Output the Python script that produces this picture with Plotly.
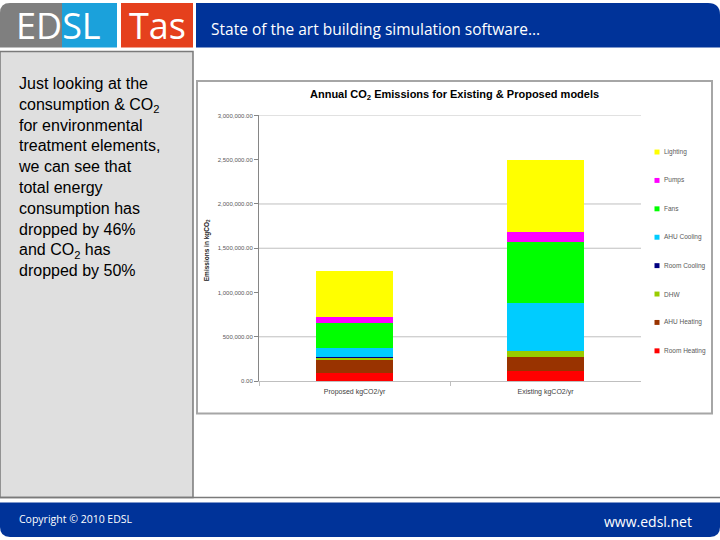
import plotly.graph_objects as go

# ---------------- data ----------------
categories = ["Proposed kgCO2/yr", "Existing kgCO2/yr"]
room_heating = [92000, 115000]
ahu_heating = [148000, 156000]
dhw = [26000, 67000]
room_cooling = [11000, 3000]
ahu_cooling = [93000, 541000]
fans = [285000, 693000]
pumps = [74000, 107000]
lighting = [515000, 819000]

series_names = ["Room Heating", "AHU Heating", "DHW", "Room Cooling",
                "AHU Cooling", "Fans", "Pumps", "Lighting"]
series_values = [room_heating, ahu_heating, dhw, room_cooling,
                 ahu_cooling, fans, pumps, lighting]
series_colors = ["#ff0000", "#993300", "#99cc00", "#000080",
                 "#00ccff", "#00ff00", "#ff00ff", "#ffff00"]

y_ticks = [0, 500000, 1000000, 1500000, 2000000, 2500000, 3000000]
grid_values = [500000, 1500000, 2000000, 3000000]

W, H = 720, 540
def px(x):
    return x / W
def py(y):
    return 1 - y / H

fig = go.Figure()
for name, vals, col in zip(series_names, series_values, series_colors):
    fig.add_trace(go.Bar(x=categories, y=vals, name=name,
                         marker=dict(color=col, line=dict(width=0)),
                         showlegend=False))

shapes = []
annotations = []

# header logo blocks
shapes.append(dict(type="path", xref="paper", yref="paper",
                   path=f"M {px(0)},{py(45)} L {px(0)},{py(10)} Q {px(0)},{py(0)} {px(10)},{py(0)} L {px(62)},{py(0)} L {px(62)},{py(45)} Z",
                   fillcolor="#7f7f7f", line=dict(width=0), layer="below"))
shapes.append(dict(type="rect", xref="paper", yref="paper",
                   x0=px(62), x1=px(117), y0=py(45), y1=py(0),
                   fillcolor="#1ba1db", line=dict(width=0), layer="below"))
shapes.append(dict(type="rect", xref="paper", yref="paper",
                   x0=px(121), x1=px(193), y0=py(45), y1=py(0),
                   fillcolor="#e5401d", line=dict(width=0), layer="below"))
# header blue bar
shapes.append(dict(type="path", xref="paper", yref="paper",
                   path=f"M {px(196)},{py(45)} L {px(196)},{py(0)} L {px(708)},{py(0)} Q {px(720)},{py(0)} {px(720)},{py(12)} L {px(720)},{py(45)} Z",
                   fillcolor="#003399", line=dict(width=0), layer="below"))
# left panel
shapes.append(dict(type="rect", xref="paper", yref="paper",
                   x0=px(0), x1=px(193), y0=py(500), y1=py(49),
                   fillcolor="#dfdfdf", line=dict(color="#7a7a7a", width=1.5), layer="below"))
# bottom separator line
shapes.append(dict(type="line", xref="paper", yref="paper",
                   x0=px(0), x1=px(720), y0=py(500), y1=py(500),
                   line=dict(color="#7a7a7a", width=1.5), layer="below"))
# bottom blue bar
shapes.append(dict(type="path", xref="paper", yref="paper",
                   path=f"M {px(0)},{py(505)} L {px(720)},{py(505)} L {px(720)},{py(530)} Q {px(720)},{py(540)} {px(710)},{py(540)} L {px(10)},{py(540)} Q {px(0)},{py(540)} {px(0)},{py(530)} Z",
                   fillcolor="#003399", line=dict(width=0), layer="below"))
# chart frame
shapes.append(dict(type="rect", xref="paper", yref="paper",
                   x0=px(197), x1=px(712), y0=py(415), y1=py(79),
                   fillcolor="white", line=dict(color="#a6a6a6", width=2), layer="below"))
# gridlines
for g in grid_values:
    shapes.append(dict(type="line", xref="x domain", yref="y",
                       x0=0, x1=1, y0=g, y1=g,
                       line=dict(color="#bfbfbf", width=1), layer="below"))

# manual legend (top = last series)
leg_names = series_names[::-1]
leg_colors = series_colors[::-1]
for i, (n, c) in enumerate(zip(leg_names, leg_colors)):
    yc = 150.7 + i * 28.72
    shapes.append(dict(type="rect", xref="paper", yref="paper",
                       x0=px(654.5), x1=px(659.5), y0=py(yc + 2.5), y1=py(yc - 2.5),
                       fillcolor=c, line=dict(width=0)))
    annotations.append(dict(text=n, x=px(661.5), y=py(yc), xref="paper", yref="paper",
                            xanchor="left", yanchor="middle", showarrow=False,
                            font=dict(family="Liberation Sans, Arial", size=6.5, color="#595959")))

# logo text
annotations.append(dict(text="EDSL", x=px(58), y=py(23), xref="paper", yref="paper",
                        showarrow=False, xanchor="center", yanchor="middle",
                        font=dict(family="Open Sans", size=36, color="white")))
annotations.append(dict(text="Tas", x=px(157), y=py(23), xref="paper", yref="paper",
                        showarrow=False, xanchor="center", yanchor="middle",
                        font=dict(family="Open Sans", size=36, color="white")))
# header text
annotations.append(dict(text="State of the art building simulation software...",
                        x=px(209), y=py(26), xref="paper", yref="paper",
                        showarrow=False, xanchor="left", yanchor="middle",
                        font=dict(family="Open Sans", size=15.5, color="white")))
# footer texts
annotations.append(dict(text="Copyright © 2010 EDSL", x=px(17), y=py(522),
                        xref="paper", yref="paper", showarrow=False,
                        xanchor="left", yanchor="middle",
                        font=dict(family="Open Sans", size=10.5, color="white")))
annotations.append(dict(text="www.edsl.net", x=px(694), y=py(524),
                        xref="paper", yref="paper", showarrow=False,
                        xanchor="right", yanchor="middle",
                        font=dict(family="Open Sans", size=14, color="white")))
# left panel text
left_text = ("Just looking at the<br>consumption &amp; CO<sub>2</sub><br>for environmental<br>"
             "treatment elements,<br>we can see that<br>total energy<br>consumption has<br>"
             "dropped by 46%<br>and CO<sub>2</sub> has<br>dropped by 50%")
annotations.append(dict(text=left_text, x=px(16), y=py(70.5), xref="paper", yref="paper",
                        showarrow=False, xanchor="left", yanchor="top", align="left",
                        font=dict(family="Liberation Sans, Arial", size=16, color="black")))
# chart title
annotations.append(dict(text="<b>Annual CO<sub>2</sub> Emissions for Existing &amp; Proposed models</b>",
                        x=px(454), y=py(93), xref="paper", yref="paper",
                        showarrow=False, xanchor="center", yanchor="middle",
                        font=dict(family="Liberation Sans", size=11, color="black")))
# y axis title
annotations.append(dict(text="<b>Emissions in kgCO<sub>2</sub></b>", x=px(207), y=py(250),
                        xref="paper", yref="paper", showarrow=False, textangle=-90,
                        xanchor="center", yanchor="middle",
                        font=dict(family="Liberation Sans", size=6.5, color="#222222")))

fig.update_layout(
    width=W, height=H, autosize=False,
    margin=dict(l=0, r=0, t=0, b=0),
    paper_bgcolor="white", plot_bgcolor="rgba(0,0,0,0)",
    barmode="stack", bargap=0.6,
    showlegend=False,
    shapes=shapes, annotations=annotations,
    xaxis=dict(domain=[px(259), px(641)], showline=True, linecolor="#bfbfbf", linewidth=1,
               ticks="outside", tickson="boundaries", ticklen=4, tickcolor="#bfbfbf",
               showgrid=False, ticklabelstandoff=4,
               tickfont=dict(family="Liberation Sans", size=7, color="#404040")),
    yaxis=dict(domain=[py(382.3), py(113.7)], range=[0, 3000000],
               tickvals=y_ticks, tickformat=",.2f",
               showline=True, linecolor="#868686", linewidth=1,
               ticks="outside", ticklen=4, tickcolor="#868686",
               showgrid=False, zeroline=False,
               tickfont=dict(family="Liberation Sans", size=6, color="#595959")),
)

fig.write_html("out.html")
